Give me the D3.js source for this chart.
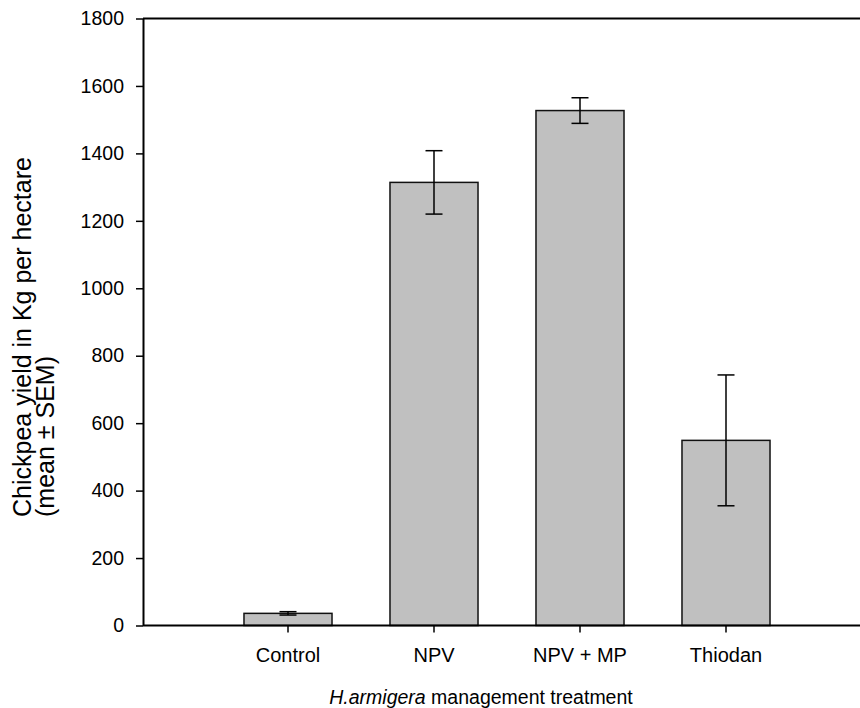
<!DOCTYPE html>
<html>
<head>
<meta charset="utf-8">
<script src="https://cdn.jsdelivr.net/npm/d3@7"></script>
<style>
  body { margin: 0; background: #fff; }
  text { font-family: "Liberation Sans", Arial, sans-serif; fill: #000; }
</style>
</head>
<body>
<div id="chart"></div>
<script>
const width = 860;
const height = 708;

// Data
const categories = ["Control", "NPV", "NPV + MP", "Thiodan"];
const means = [36, 1314, 1527, 549];
const sems = [5, 94, 38, 194];
const yTicks = [0, 200, 400, 600, 800, 1000, 1200, 1400, 1600, 1800];

const plotLeft = 143, plotTop = 18.5, plotBottom = 625.5;

const svg = d3.select("#chart").append("svg")
  .attr("width", width)
  .attr("height", height);

const x = d3.scaleBand()
  .domain(categories)
  .range([215, 799])
  .paddingInner(0.397)
  .paddingOuter(0.1985);

const y = d3.scaleLinear()
  .domain([0, 1800])
  .range([plotBottom, plotTop]);

const rows = categories.map((c, i) => ({ name: c, mean: means[i], sem: sems[i] }));

// Bars
svg.selectAll("rect.bar")
  .data(rows)
  .enter().append("rect")
  .attr("class", "bar")
  .attr("x", d => x(d.name))
  .attr("y", d => y(d.mean))
  .attr("width", x.bandwidth())
  .attr("height", d => y(0) - y(d.mean))
  .attr("fill", "#c0c0c0")
  .attr("stroke", "#111")
  .attr("stroke-width", 1.5);

// Error bars
const cap = 8.5;
const err = svg.selectAll("g.err")
  .data(rows)
  .enter().append("g")
  .attr("class", "err")
  .attr("stroke", "#000")
  .attr("stroke-width", 1.5);
err.append("line")
  .attr("x1", d => x(d.name) + x.bandwidth() / 2)
  .attr("x2", d => x(d.name) + x.bandwidth() / 2)
  .attr("y1", d => y(d.mean + d.sem))
  .attr("y2", d => y(d.mean - d.sem));
err.append("line")
  .attr("x1", d => x(d.name) + x.bandwidth() / 2 - cap)
  .attr("x2", d => x(d.name) + x.bandwidth() / 2 + cap)
  .attr("y1", d => y(d.mean + d.sem))
  .attr("y2", d => y(d.mean + d.sem));
err.append("line")
  .attr("x1", d => x(d.name) + x.bandwidth() / 2 - cap)
  .attr("x2", d => x(d.name) + x.bandwidth() / 2 + cap)
  .attr("y1", d => y(d.mean - d.sem))
  .attr("y2", d => y(d.mean - d.sem));

// Y axis
const yAxis = svg.append("g")
  .attr("transform", `translate(${plotLeft},0)`)
  .call(d3.axisLeft(y).tickValues(yTicks).tickFormat(d3.format("d"))
    .tickSize(7).tickPadding(12).tickSizeOuter(0));
yAxis.select(".domain").attr("stroke-width", 2);
yAxis.selectAll(".tick line").attr("stroke-width", 1.5);
yAxis.selectAll("text").style("font-size", "19.5px");

// X axis
const xAxis = svg.append("g")
  .attr("transform", `translate(0,${plotBottom})`)
  .call(d3.axisBottom(x).tickSize(7).tickPadding(15).tickSizeOuter(0));
xAxis.select(".domain").attr("d", `M${plotLeft},0H${width}`).attr("stroke-width", 2);
xAxis.selectAll(".tick line").attr("stroke-width", 1.5);
xAxis.selectAll("text").style("font-size", "20px");

// Top frame line
svg.append("line")
  .attr("x1", plotLeft).attr("x2", width)
  .attr("y1", y(1800)).attr("y2", y(1800))
  .attr("stroke", "#000").attr("stroke-width", 2);

// Axis titles
const xTitle = svg.append("text")
  .attr("x", 481)
  .attr("y", 704)
  .attr("text-anchor", "middle")
  .style("font-size", "19.5px");
xTitle.append("tspan").style("font-style", "italic").text("H.armigera");
xTitle.append("tspan").text(" management treatment");

const yTitle = svg.append("text")
  .attr("transform", "translate(0,517) rotate(-90)")
  .attr("text-anchor", "start")
  .style("font-size", "25px");
yTitle.append("tspan").attr("x", 0).attr("y", 31).text("Chickpea yield in Kg per hectare");
yTitle.append("tspan").attr("x", 0).attr("y", 54).text("(mean ± SEM)");
</script>
</body>
</html>
